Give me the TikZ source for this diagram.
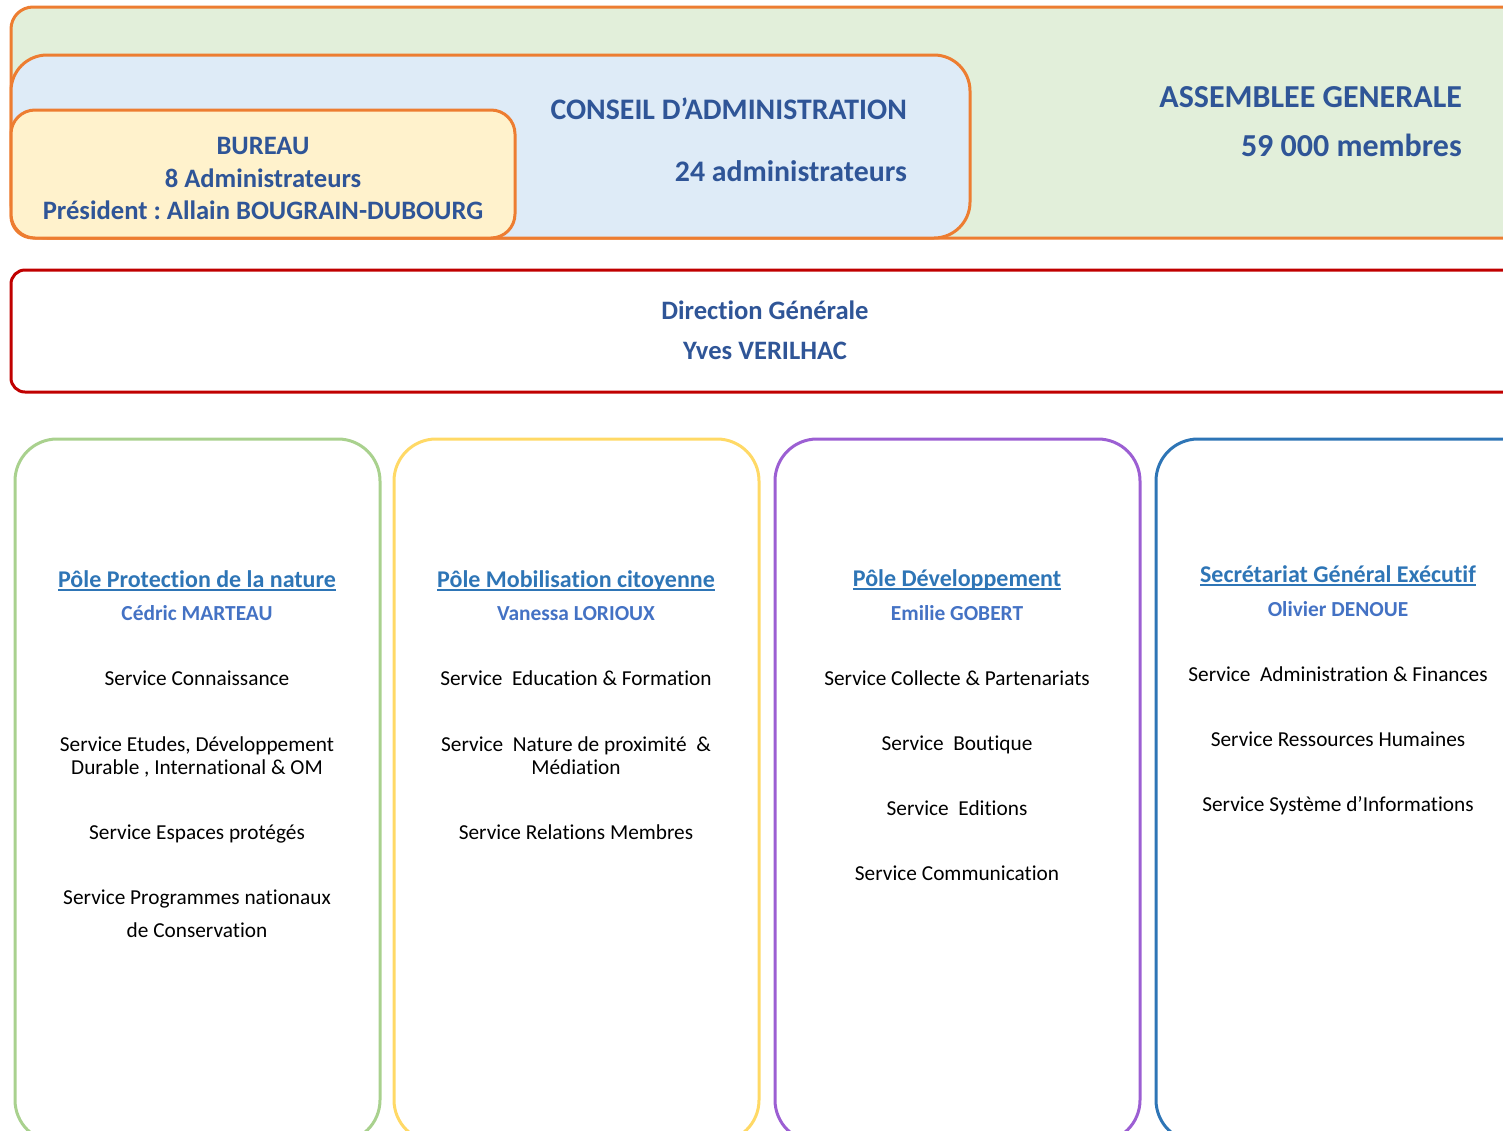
\documentclass[tikz,border=0pt]{standalone}
\usepackage{fontspec}
\setmainfont{Carlito}[Ligatures=NoCommon]
\frenchspacing
\definecolor{orgline}{HTML}{ED7D31}
\definecolor{agfill}{HTML}{E2EFDA}
\definecolor{cafill}{HTML}{DEEBF7}
\definecolor{bufill}{HTML}{FFF2CC}
\definecolor{dgred}{HTML}{C00000}
\definecolor{titleblue}{HTML}{2F5597}
\definecolor{headblue}{HTML}{2E75B6}
\definecolor{nameblue}{HTML}{4472C4}
\definecolor{pgreen}{HTML}{A9D18E}
\definecolor{pyellow}{HTML}{FFD966}
\definecolor{ppurple}{HTML}{9C5FD3}
\definecolor{pblue}{HTML}{2E75B6}
\newcommand{\ulxx}[1]{\setbox0\hbox{#1}\rlap{\rule[-3.5pt]{\wd0}{1.6pt}}\box0}
\tikzset{
  frame/.style={line width=3pt},
  topbox/.style={frame, draw=orgline},
  polebox/.style={frame, rounded corners=42pt},
  txt/.style={inner sep=0pt, anchor=base},
  bigtitle/.style={txt, text=titleblue, font=\fontsize{26.6}{30}\selectfont\bfseries},
  headtxt/.style={txt, text=headblue, font=\fontsize{24}{28}\selectfont\bfseries},
  nametxt/.style={txt, text=nameblue, font=\fontsize{21.4}{25}\selectfont\bfseries},
  svc/.style={txt, text=black, font=\fontsize{21.3}{25}\selectfont},
}
\begin{document}
\begin{tikzpicture}[x=1pt,y=-1pt]
\useasboundingbox (0,0) rectangle (1503,1130);
\clip (0,0) rectangle (1503,1130);
% top boxes
\draw[topbox, fill=agfill, rounded corners=22pt] (11,7) rectangle (1560,238);
\draw[topbox, fill=cafill, rounded corners=36pt] (11,55) rectangle (970,238);
\draw[topbox, fill=bufill, rounded corners=24pt] (11,110) rectangle (515,238);
% direction
\draw[frame, draw=dgred, rounded corners=14pt] (11,270) rectangle (1560,392);
% poles
\draw[polebox, draw=pgreen] (15,439) rectangle (380,1142);
\draw[polebox, draw=pyellow] (394,439) rectangle (759,1142);
\draw[polebox, draw=ppurple] (775,439) rectangle (1140,1142);
\draw[polebox, draw=pblue] (1156,439) rectangle (1560,1142);

% texts top
\node[bigtitle, font=\fontsize{32}{36}\selectfont\bfseries, anchor=base east] (ag1) at (1462,107) {ASSEMBLEE GENERALE};
\node[bigtitle, font=\fontsize{32}{36}\selectfont\bfseries, anchor=base east] (ag2) at (1462,156) {59 000 membres};
\node[bigtitle, font=\fontsize{29.8}{34}\selectfont\bfseries, anchor=base east] (ca1) at (907,119) {CONSEIL D’ADMINISTRATION};
\node[bigtitle, font=\fontsize{29.8}{34}\selectfont\bfseries, anchor=base east] (ca2) at (907,181) {24 administrateurs};
\node[bigtitle] (bu1) at (263,154) {BUREAU};
\node[bigtitle] (bu2) at (263,187) {8 Administrateurs};
\node[bigtitle] (bu3) at (263,219) {Président : Allain BOUGRAIN-DUBOURG};
\node[bigtitle] (dg1) at (765,319) {Direction Générale};
\node[bigtitle] (dg2) at (765,359) {Yves VERILHAC};

% pole 1
\node[headtxt] (p1h) at (197,587) {\ulxx{Pôle Protection de la nature}};
\node[nametxt] (p1n) at (197,620) {Cédric MARTEAU};
\node[svc] (p1s1) at (197,685) {Service Connaissance};
\node[svc] (p1s2a) at (197,751) {Service Etudes, Développement};
\node[svc] (p1s2b) at (197,774) {Durable , International \& OM};
\node[svc] (p1s3) at (197,839) {Service Espaces protégés};
\node[svc] (p1s4a) at (197,904) {Service Programmes nationaux};
\node[svc] (p1s4b) at (197,937) {de Conservation};
% pole 2
\node[headtxt] (p2h) at (576,587) {\ulxx{Pôle Mobilisation citoyenne}};
\node[nametxt] (p2n) at (576,620) {Vanessa LORIOUX};
\node[svc] (p2s1) at (576,685) {Service\ \ Education \& Formation};
\node[svc] (p2s2a) at (576,751) {Service\ \ Nature de proximité\ \ \&};
\node[svc] (p2s2b) at (576,774) {Médiation};
\node[svc] (p2s3) at (576,839) {Service Relations Membres};
% pole 3
\node[headtxt] (p3h) at (957,586) {\ulxx{Pôle Développement}};
\node[nametxt] (p3n) at (957,620) {Emilie GOBERT};
\node[svc] (p3s1) at (957,685) {Service Collecte \& Partenariats};
\node[svc] (p3s2) at (957,750) {Service\ \ Boutique};
\node[svc] (p3s3) at (957,815) {Service\ \ Editions};
\node[svc] (p3s4) at (957,880) {Service Communication};
% pole 4
\node[headtxt] (p4h) at (1338,582) {\ulxx{Secrétariat Général Exécutif}};
\node[nametxt] (p4n) at (1338,616) {Olivier DENOUE};
\node[svc] (p4s1) at (1338,681) {Service\ \ Administration \& Finances};
\node[svc] (p4s2) at (1338,746) {Service Ressources Humaines};
\node[svc] (p4s3) at (1338,811) {Service Système d’Informations};
\end{tikzpicture}
\end{document}
